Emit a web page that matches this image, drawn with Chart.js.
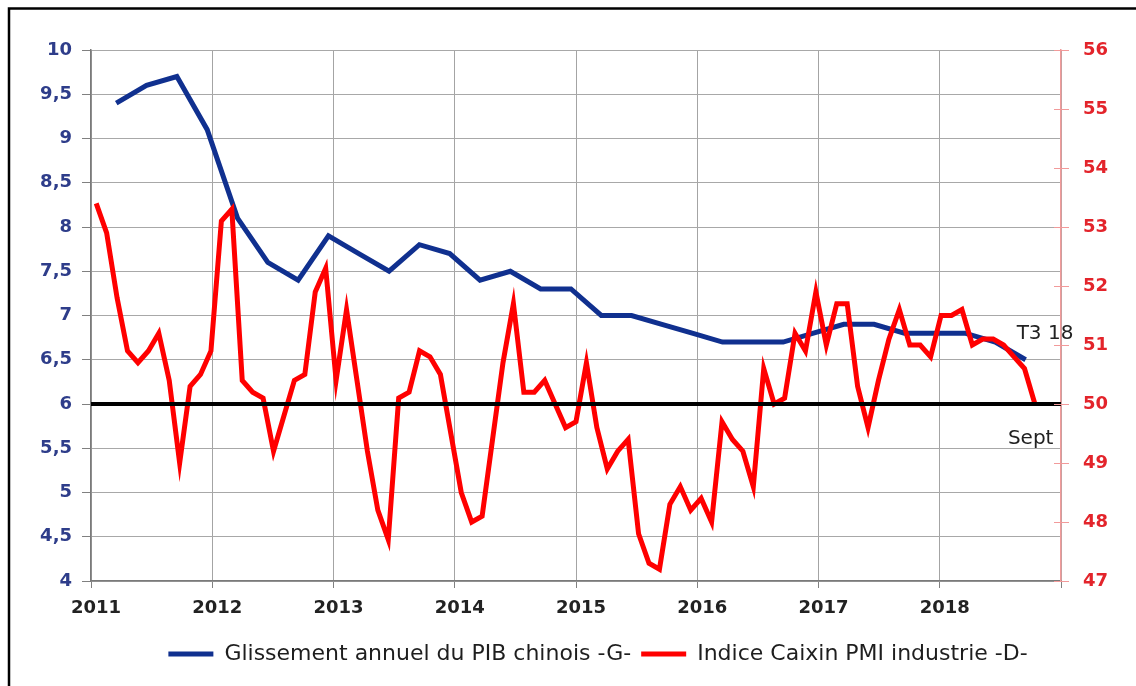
<!DOCTYPE html>
<html><head><meta charset="utf-8">
<style>html,body{margin:0;padding:0;background:#fff;} canvas{display:block;}</style>
<script src="https://cdn.jsdelivr.net/npm/chart.js@4.4.1/dist/chart.umd.min.js"></script>
</head><body>
<canvas id="c" width="1136" height="686"></canvas>
<script>
// ---- data ----
const yearTicks = [2011, 2012, 2013, 2014, 2015, 2016, 2017, 2018, 2019];
const gdpQuarters = ['2011-T1','2011-T2','2011-T3','2011-T4','2012-T1','2012-T2','2012-T3','2012-T4',
  '2013-T1','2013-T2','2013-T3','2013-T4','2014-T1','2014-T2','2014-T3','2014-T4',
  '2015-T1','2015-T2','2015-T3','2015-T4','2016-T1','2016-T2','2016-T3','2016-T4',
  '2017-T1','2017-T2','2017-T3','2017-T4','2018-T1','2018-T2','2018-T3'];
const gdpValues = [9.4, 9.6, 9.7, 9.1, 8.1, 7.6, 7.4, 7.9, 7.7, 7.5, 7.8, 7.7, 7.4, 7.5, 7.3, 7.3,
  7.0, 7.0, 6.9, 6.8, 6.7, 6.7, 6.7, 6.8, 6.9, 6.9, 6.8, 6.8, 6.8, 6.7, 6.5];
const pmiFirstMonth = [2011, 3];      // March 2011
const pmiLastCategory = [2018, 11];   // category axis runs to Nov 2018
const pmiValues = [53.4, 52.9, 51.8, 50.9, 50.7, 50.9, 51.2, 50.4, 49.0, 50.3,
  50.5, 50.9, 53.1, 53.3, 50.4, 50.2, 50.1, 49.2, 49.8, 50.4, 50.5, 51.9,
  52.3, 50.4, 51.6, 50.4, 49.2, 48.2, 47.7, 50.1, 50.2, 50.9, 50.8, 50.5,
  49.5, 48.5, 48.0, 48.1, 49.4, 50.7, 51.7, 50.2, 50.2, 50.4, 50.0, 49.6,
  49.7, 50.7, 49.6, 48.9, 49.2, 49.4, 47.8, 47.3, 47.2, 48.3, 48.6, 48.2,
  48.4, 48.0, 49.7, 49.4, 49.2, 48.6, 50.6, 50.0, 50.1, 51.2, 50.9, 51.9,
  51.0, 51.7, 51.7, 50.3, 49.6, 50.4, 51.1, 51.6, 51.0, 51.0, 50.8, 51.5,
  51.5, 51.6, 51.0, 51.1, 51.1, 51.0, 50.8, 50.6, 50.0];
const pmiThreshold = 50;
const seriesNames = ['Glissement annuel du PIB chinois -G-', 'Indice Caixin PMI industrie -D-'];
const noteGdp = 'T3 18';
const notePmi = 'Sept';

// ---- derived ----
function quarterToX(q) { const [y, t] = q.split('-T'); return +y + (3 * +t - 0.5) / 12; }
const gdpData = gdpQuarters.map((q, i) => ({ x: quarterToX(q), y: gdpValues[i] }));
const monthLabels = [];
for (let y = pmiFirstMonth[0], m = pmiFirstMonth[1]; y < pmiLastCategory[0] || (y === pmiLastCategory[0] && m <= pmiLastCategory[1]); ) {
  monthLabels.push(y + '-' + String(m).padStart(2, '0'));
  m++; if (m > 12) { m = 1; y++; }
}

const BLUE = '#10308F', RED = '#FF0000';
const tickFont = { family: 'DejaVu Sans', size: 18, weight: 'bold' };

const overlay = {
  id: 'overlay',
  afterLayout(chart) {
    const lg = chart.legend;
    if (lg) { lg.left += 30; lg.right += 30; }
  },
  afterDraw(chart) {
    const ctx = chart.ctx, x = chart.scales.x, y = chart.scales.y, y2 = chart.scales.y2, x2 = chart.scales.x2;
    ctx.save();
    // right axis cross tick marks
    ctx.strokeStyle = '#F29A9A'; ctx.lineWidth = 1;
    y2.ticks.forEach((t, i) => {
      const py = Math.round(y2.getPixelForTick(i)) + 0.5;
      ctx.beginPath(); ctx.moveTo(y2.left - 7, py); ctx.lineTo(y2.left + 8, py); ctx.stroke();
    });
    // notes
    ctx.fillStyle = '#222';
    ctx.font = '20px "DejaVu Sans"';
    ctx.textAlign = 'left'; ctx.textBaseline = 'middle';
    const lg = gdpData[gdpData.length - 1];
    ctx.fillText(noteGdp, x.getPixelForValue(lg.x) - 9, y.getPixelForValue(lg.y) - 26);
    const li = pmiValues.length - 1;
    ctx.fillText(notePmi, x2.getPixelForValue(li) - 27, y2.getPixelForValue(pmiValues[li]) + 35);
    // frame
    ctx.strokeStyle = '#000'; ctx.lineWidth = 2.5;
    ctx.strokeRect(9, 8.5, 1160, 720);
    ctx.restore();
  }
};

new Chart(document.getElementById('c'), {
  type: 'line',
  data: {
    datasets: [
      { label: seriesNames[0], data: gdpData, xAxisID: 'x', yAxisID: 'y', borderColor: BLUE, backgroundColor: BLUE,
        borderWidth: 5, pointRadius: 0, tension: 0, order: 2 },
      { label: seriesNames[1], data: pmiValues, xAxisID: 'x2', yAxisID: 'y2', borderColor: RED, backgroundColor: RED,
        borderWidth: 5, pointRadius: 0, tension: 0, order: 1 },
      { label: 'seuil', data: [{ x: yearTicks[0], y: pmiThreshold }, { x: yearTicks[yearTicks.length - 1], y: pmiThreshold }],
        xAxisID: 'x', yAxisID: 'y2', borderColor: '#000', borderWidth: 4, pointRadius: 0, order: 0 }
    ]
  },
  options: {
    responsive: false, animation: false, devicePixelRatio: 1,
    layout: { padding: { top: 50, left: 0, right: 0, bottom: 11 } },
    plugins: {
      tooltip: { enabled: false },
      legend: {
        position: 'bottom',
        labels: {
          usePointStyle: true, pointStyle: 'line', pointStyleWidth: 45,
          font: { family: 'DejaVu Sans', size: 22 }, color: '#1e1e1e', padding: 10,
          filter: item => item.datasetIndex < 2,
          sort: (a, b) => a.datasetIndex - b.datasetIndex
        }
      }
    },
    scales: {
      x: {
        type: 'linear', position: 'bottom', min: yearTicks[0], max: yearTicks[yearTicks.length - 1],
        afterBuildTicks: s => { s.ticks = yearTicks.map(v => ({ value: v })); },
        afterFit: s => { s.height = 52; },
        ticks: { font: tickFont, color: '#222', padding: 10, labelOffset: 5,
          callback: v => (v < yearTicks[yearTicks.length - 1] ? String(v) : '') },
        grid: { color: '#A4A4A4', lineWidth: 1, tickLength: 7, tickColor: '#808080' },
        border: { color: '#7A7A7A', width: 1.5 }
      },
      x2: { type: 'category', labels: monthLabels, offset: true, display: false },
      y: {
        position: 'left', min: 4, max: 10,
        afterFit: s => { s.width = 91; },
        ticks: { stepSize: 0.5, font: tickFont, color: '#2E3D8A', padding: 10,
          callback: v => String(v).replace('.', ',') },
        grid: { color: '#A8A8A8', lineWidth: 1, tickLength: 9, tickColor: '#808080' },
        border: { color: '#7A7A7A', width: 1.5 }
      },
      y2: {
        position: 'right', min: 47, max: 56,
        afterFit: s => { s.width = 75; },
        ticks: { stepSize: 1, font: tickFont, color: '#E3242B', padding: 22 },
        grid: { drawOnChartArea: false, drawTicks: false },
        border: { color: '#F29A9A', width: 1.5 }
      }
    }
  },
  plugins: [overlay]
});
</script>
</body></html>
